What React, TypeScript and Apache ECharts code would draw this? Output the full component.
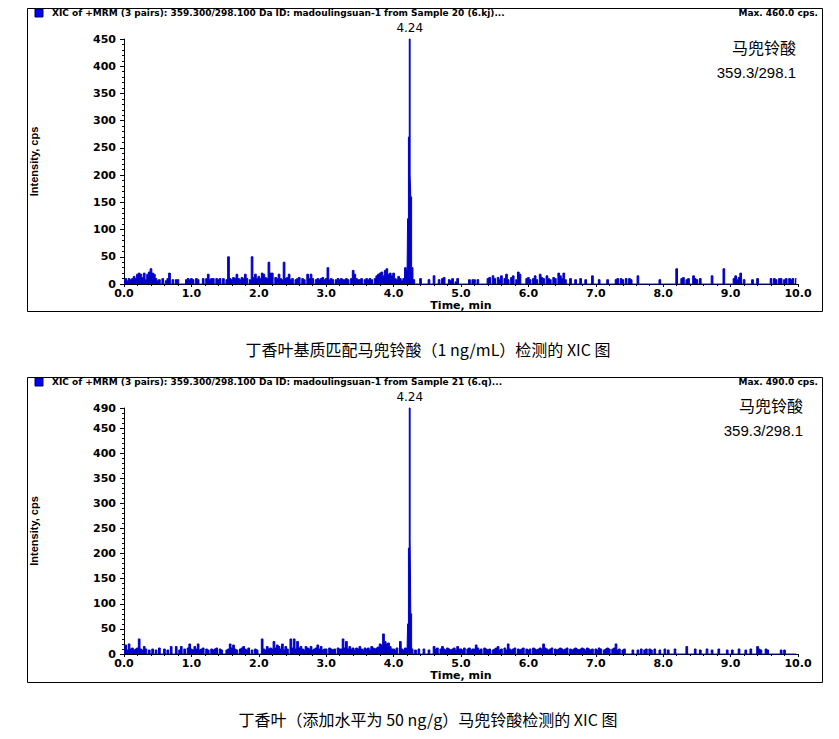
import React, { useEffect, useRef } from "react";
import * as echarts from "echarts";

// Sampling step of the baseline arrays (min)
const STEP = 0.025;

// Top chart (Sample 20): baseline intensity, one row per 0.5 min (20 samples each)
const topBaseline: number[][] = [
  [8, 10, 6, 10, 8, 10, 14, 10, 18, 20, 18, 12, 20, 8, 18, 22, 28, 20, 18, 10],
  [6, 8, 0, 10, 0, 6, 10, 20, 0, 8, 0, 8, 8, 0, 0, 0, 0, 8, 10, 8],
  [10, 8, 0, 10, 8, 0, 0, 10, 0, 10, 18, 8, 10, 10, 0, 10, 8, 10, 0, 10],
  [0, 8, 50, 10, 8, 12, 10, 18, 10, 8, 12, 10, 18, 10, 0, 8, 50, 12, 18, 10],
  [14, 10, 20, 18, 12, 10, 40, 20, 20, 0, 12, 10, 18, 10, 8, 40, 10, 12, 18, 8],
  [10, 0, 8, 10, 12, 0, 10, 8, 0, 18, 10, 18, 10, 0, 8, 10, 8, 10, 12, 8],
  [10, 30, 8, 10, 8, 0, 8, 10, 8, 10, 8, 8, 10, 8, 0, 10, 25, 18, 10, 8],
  [8, 10, 0, 8, 10, 8, 10, 8, 0, 10, 15, 18, 20, 22, 15, 25, 28, 18, 20, 15],
  [20, 10, 8, 14, 10, 6, 0, 0, 0, 0, 0, 0, 0, 0, 0, 0, 10, 0, 0, 0],
  [0, 8, 0, 0, 15, 0, 0, 8, 0, 10, 12, 0, 0, 8, 6, 10, 0, 4, 10, 0],
  [0, 0, 0, 0, 0, 8, 0, 8, 8, 0, 8, 0, 0, 0, 0, 0, 10, 12, 0, 15],
  [10, 0, 12, 8, 15, 0, 10, 18, 8, 0, 12, 15, 0, 8, 22, 18, 0, 0, 0, 10],
  [12, 8, 0, 10, 15, 8, 0, 18, 12, 10, 0, 15, 10, 8, 0, 12, 10, 0, 20, 15],
  [10, 20, 8, 0, 0, 10, 0, 0, 8, 0, 0, 10, 0, 0, 8, 0, 0, 0, 15, 0],
  [0, 0, 8, 0, 0, 0, 0, 8, 0, 0, 0, 0, 8, 10, 0, 10, 8, 0, 10, 0],
  [10, 8, 0, 0, 0, 15, 0, 0, 0, 0, 0, 0, 0, 0, 0, 0, 0, 0, 8, 0],
  [0, 0, 0, 0, 0, 0, 0, 0, 28, 0, 0, 10, 12, 0, 8, 10, 0, 0, 15, 10],
  [8, 0, 10, 0, 0, 0, 0, 0, 0, 15, 0, 0, 0, 0, 0, 0, 28, 0, 0, 0],
  [0, 0, 10, 15, 8, 12, 20, 0, 8, 0, 0, 0, 0, 8, 0, 0, 10, 0, 0, 0],
  [0, 0, 0, 0, 10, 0, 10, 8, 0, 10, 10, 0, 8, 10, 0, 10, 8, 10, 0, 10],
];
const topPeakTimes = [4.15, 4.175, 4.2, 4.215, 4.225, 4.24, 4.25, 4.26, 4.275, 4.3, 4.325];
const topPeakValues = [10, 30, 25, 120, 270, 450, 200, 160, 30, 8, 0];

// Bottom chart (Sample 21)
const bottomBaseline: number[][] = [
  [10, 18, 8, 20, 10, 12, 8, 10, 12, 30, 10, 8, 15, 10, 0, 8, 0, 10, 0, 8],
  [0, 12, 0, 0, 10, 0, 8, 0, 15, 0, 0, 15, 0, 8, 15, 0, 10, 0, 12, 20],
  [10, 8, 15, 10, 20, 8, 10, 12, 0, 10, 8, 0, 10, 8, 10, 12, 0, 10, 8, 0],
  [0, 8, 10, 20, 12, 18, 10, 8, 0, 10, 12, 15, 10, 8, 12, 0, 8, 0, 10, 8],
  [0, 0, 30, 10, 8, 15, 10, 12, 10, 25, 12, 18, 15, 10, 20, 8, 15, 10, 0, 30],
  [12, 30, 10, 25, 12, 15, 10, 8, 15, 12, 10, 15, 8, 10, 12, 18, 10, 15, 8, 10],
  [10, 0, 12, 10, 8, 10, 0, 12, 10, 10, 30, 12, 25, 10, 15, 10, 12, 8, 12, 10],
  [15, 10, 8, 12, 10, 12, 8, 15, 12, 10, 12, 14, 20, 18, 40, 25, 20, 22, 15, 10],
  [10, 8, 12, 0, 25, 10, 0, 0, 0, 0, 0, 0, 0, 0, 0, 10, 0, 0, 10, 0],
  [0, 8, 0, 0, 15, 10, 12, 0, 10, 15, 10, 8, 12, 10, 8, 10, 12, 8, 15, 10],
  [10, 8, 12, 0, 10, 12, 8, 10, 10, 18, 12, 8, 10, 0, 12, 10, 8, 10, 0, 8],
  [10, 12, 15, 8, 10, 0, 12, 8, 20, 10, 8, 10, 12, 0, 10, 8, 10, 12, 0, 10],
  [8, 10, 0, 12, 10, 8, 10, 12, 10, 20, 12, 10, 8, 10, 12, 0, 10, 8, 10, 12],
  [10, 8, 10, 12, 0, 10, 8, 10, 12, 10, 8, 10, 12, 10, 8, 12, 10, 8, 10, 0],
  [10, 8, 12, 10, 0, 8, 10, 12, 10, 0, 10, 12, 20, 8, 10, 0, 8, 10, 0, 0],
  [0, 0, 8, 0, 0, 8, 0, 10, 0, 8, 10, 0, 10, 8, 0, 10, 0, 0, 8, 0],
  [0, 10, 0, 8, 0, 0, 0, 10, 0, 0, 0, 0, 0, 0, 15, 0, 0, 0, 0, 10],
  [0, 0, 8, 0, 0, 0, 10, 0, 0, 8, 0, 0, 0, 10, 0, 0, 0, 0, 8, 0],
  [0, 8, 0, 0, 0, 10, 0, 0, 0, 8, 0, 0, 10, 0, 0, 0, 15, 10, 8, 0],
  [0, 10, 8, 0, 0, 0, 0, 0, 0, 0, 8, 0, 8, 0, 0, 0, 0, 0, 0, 0],
];
const bottomPeakTimes = [4.15, 4.175, 4.2, 4.215, 4.225, 4.24, 4.25, 4.26, 4.275, 4.3, 4.325];
const bottomPeakValues = [8, 12, 10, 60, 211, 490, 230, 80, 10, 0, 8];

const peakRT = 4.24;
const peakLabel = "4.24";
const topYMax = 450;
const bottomYMax = 490;
const xMin = 0;
const xMax = 10;

const topHeader =
  "XIC of +MRM (3 pairs): 359.300/298.100 Da ID: madoulingsuan-1 from Sample 20 (6.kj)...";
const bottomHeader =
  "XIC of +MRM (3 pairs): 359.300/298.100 Da ID: madoulingsuan-1 from Sample 21 (6.q)...";
const topMax = "Max. 460.0 cps.";
const bottomMax = "Max. 490.0 cps.";
const compoundName = "马兜铃酸";
const transition = "359.3/298.1";
const topCaption = "丁香叶基质匹配马兜铃酸（1 ng/mL）检测的 XIC 图";
const bottomCaption = "丁香叶（添加水平为 50 ng/g）马兜铃酸检测的 XIC 图";

function buildSeries(rows: number[][], pt: number[], pv: number[]) {
  const flat = rows.flat();
  const lo = pt[0];
  const hi = pt[pt.length - 1];
  const pts: number[][] = [];
  flat.forEach((v, i) => {
    const t = Math.round(i * STEP * 1000) / 1000;
    if (t < lo - 1e-9 || t > hi + 1e-9) pts.push([t, v]);
  });
  pt.forEach((t, i) => pts.push([t, pv[i]]));
  pts.sort((a, b) => a[0] - b[0]);
  return pts;
}

const BLUE = "#0000c8";
const AXIS_FONT = "DejaVu Sans";

function makeX(gridIndex: number) {
  return {
    type: "value",
    gridIndex,
    min: xMin,
    max: xMax,
    interval: 1,
    name: "Time, min",
    nameLocation: "middle",
    nameGap: 14,
    nameTextStyle: { fontFamily: AXIS_FONT, fontWeight: "bold", fontSize: 11, color: "#000" },
    axisLine: { show: true, onZero: false, lineStyle: { color: "#000", width: 1 } },
    axisTick: { show: true, length: 3, lineStyle: { color: "#000" } },
    minorTick: { show: true, splitNumber: 5, length: 2, lineStyle: { color: "#000" } },
    splitLine: { show: false },
    axisLabel: {
      margin: 4,
      color: "#000",
      fontFamily: AXIS_FONT,
      fontWeight: "bold",
      fontSize: 11,
      formatter: (v: number) => v.toFixed(1),
    },
  };
}

function makeY(gridIndex: number, max: number) {
  return {
    type: "value",
    gridIndex,
    min: 0,
    max,
    interval: 50,
    name: "Intensity, cps",
    nameLocation: "middle",
    nameGap: 85,
    nameTextStyle: { fontFamily: "Liberation Sans", fontWeight: "bold", fontSize: 11, color: "#000" },
    axisLine: { show: true, lineStyle: { color: "#000", width: 1 } },
    axisTick: { show: true, length: 4, lineStyle: { color: "#000" } },
    minorTick: { show: true, splitNumber: 5, length: 2, lineStyle: { color: "#000" } },
    splitLine: { show: false },
    axisLabel: {
      margin: 8,
      color: "#000",
      fontFamily: AXIS_FONT,
      fontWeight: "bold",
      fontSize: 11,
    },
  };
}

function makeSeries(idx: number, data: number[][], peakVal: number) {
  return {
    type: "line",
    xAxisIndex: idx,
    yAxisIndex: idx,
    data,
    step: "middle",
    symbol: "none",
    lineStyle: { color: BLUE, width: 1 },
    itemStyle: { color: BLUE },
    areaStyle: { color: BLUE, opacity: 1 },
    clip: false,
    markPoint: {
      symbol: "circle",
      symbolSize: 1,
      itemStyle: { color: "rgba(0,0,0,0)" },
      label: {
        show: true,
        position: "top",
        distance: 5,
        formatter: peakLabel,
        color: "#000",
        fontFamily: AXIS_FONT,
        fontSize: 12,
      },
      data: [{ coord: [peakRT, peakVal] }],
    },
  };
}

function textEl(text: string, x: number, y: number, font: string, align = "left") {
  return {
    type: "text",
    x,
    y,
    silent: true,
    style: {
      text,
      font,
      fill: "#000",
      align,
      verticalAlign: "middle",
      textAlign: align,
      textVerticalAlign: "middle",
    },
  };
}

export default function App() {
  const ref = useRef<HTMLDivElement>(null);
  useEffect(() => {
    document.body.style.margin = "0";
    if (!ref.current) return;
    const chart = echarts.init(ref.current, undefined, { renderer: "svg" });
    const topData = buildSeries(topBaseline, topPeakTimes, topPeakValues);
    const bottomData = buildSeries(bottomBaseline, bottomPeakTimes, bottomPeakValues);
    const hdrFont = `bold 9px "${AXIS_FONT}"`;
    const cjkFont = `16px "Noto Sans CJK SC"`;
    const numFont = `15px "Liberation Sans"`;
    const capFont = `16px "Noto Sans CJK SC"`;
    chart.setOption({
      animation: false,
      backgroundColor: "#fff",
      grid: [
        { left: 124, top: 39, width: 674, height: 245 },
        { left: 124, top: 408, width: 674, height: 246 },
      ],
      xAxis: [makeX(0), makeX(1)],
      yAxis: [makeY(0, topYMax), makeY(1, bottomYMax)],
      series: [
        makeSeries(0, topData, topPeakValues[topPeakTimes.indexOf(peakRT)]),
        makeSeries(1, bottomData, bottomPeakValues[bottomPeakTimes.indexOf(peakRT)]),
      ],
      graphic: [
        {
          type: "rect",
          silent: true,
          shape: { x: 27.5, y: 8.5, width: 795, height: 303 },
          style: { fill: "none", stroke: "#000", lineWidth: 1 },
        },
        {
          type: "rect",
          silent: true,
          shape: { x: 27.5, y: 377.5, width: 795, height: 305 },
          style: { fill: "none", stroke: "#000", lineWidth: 1 },
        },
        {
          type: "rect",
          silent: true,
          shape: { x: 35, y: 9, width: 8, height: 8 },
          style: { fill: "#0000ff", stroke: "#000040", lineWidth: 1 },
        },
        {
          type: "rect",
          silent: true,
          shape: { x: 35, y: 378, width: 8, height: 8 },
          style: { fill: "#0000ff", stroke: "#000040", lineWidth: 1 },
        },
        textEl(topHeader, 52, 13, hdrFont),
        textEl(topMax, 818, 13, hdrFont, "right"),
        textEl(bottomHeader, 52, 382, hdrFont),
        textEl(bottomMax, 818, 382, hdrFont, "right"),
        textEl(compoundName, 796, 47, cjkFont, "right"),
        textEl(transition, 796, 72, numFont, "right"),
        textEl(compoundName, 803, 405, cjkFont, "right"),
        textEl(transition, 803, 430, numFont, "right"),
        textEl(topCaption, 428, 349, capFont, "center"),
        textEl(bottomCaption, 428, 719, capFont, "center"),
      ],
    });
    return () => chart.dispose();
  }, []);
  return <div ref={ref} style={{ width: 839, height: 739, overflow: "hidden" }} />;
}
